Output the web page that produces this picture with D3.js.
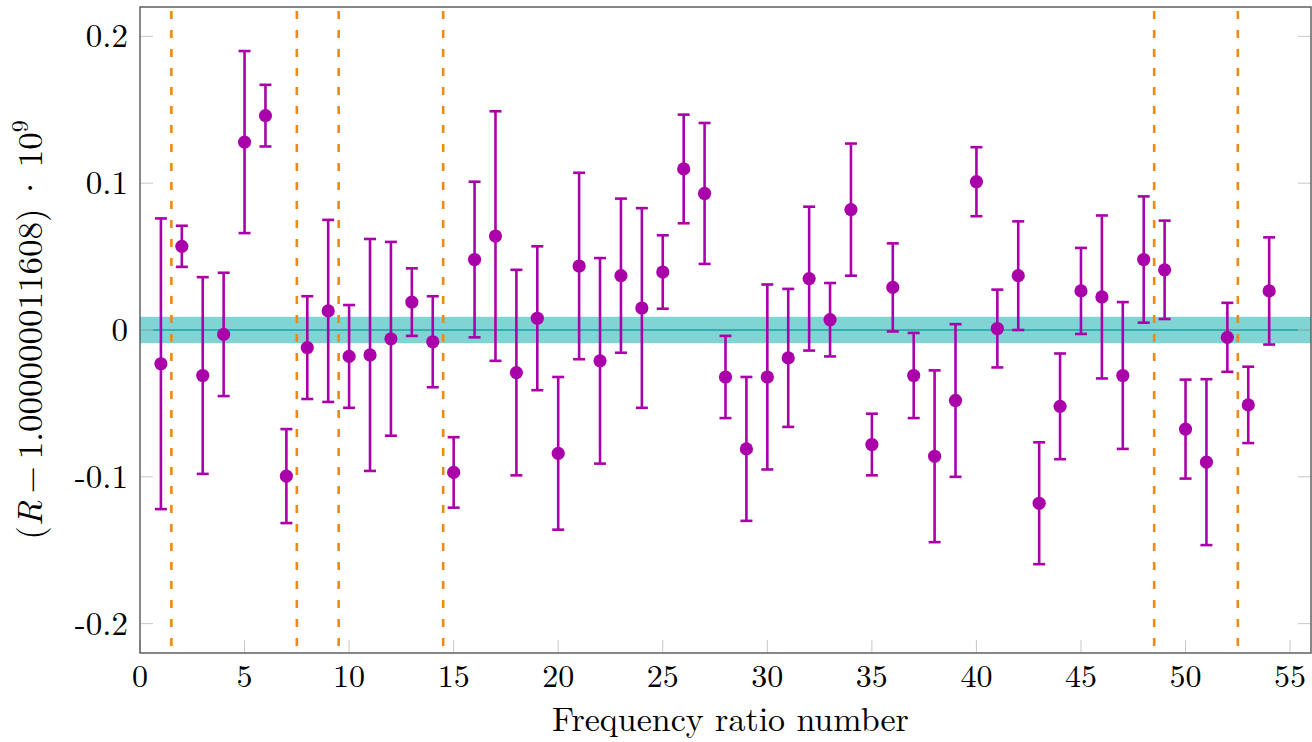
<!DOCTYPE html>
<html lang="en">
<head>
  <meta charset="UTF-8">
  <title>Frequency ratio residuals</title>
  <script src="https://d3js.org/d3.v7.min.js"></script>
  <style>
    body { margin: 0; background: #fff; }
    svg { font-family: "Latin Modern Roman", "CMU Serif", "Liberation Serif", serif; }
  </style>
</head>
<body>
<div id="chart"></div>
<script>
  // ratio number, value and symmetric error (all in 1e-9 units)
  const ratioNumber = d3.range(1, 55);
  const values = [
    -0.023, 0.057, -0.031, -0.003, 0.128, 0.146, -0.0995, -0.012, 0.013, -0.018,
    -0.017, -0.006, 0.019, -0.008, -0.097, 0.048, 0.064, -0.029, 0.008, -0.084,
    0.0436, -0.021, 0.037, 0.015, 0.0395, 0.1097, 0.093, -0.032, -0.081, -0.032,
    -0.019, 0.035, 0.007, 0.082, -0.078, 0.029, -0.031, -0.086, -0.048, 0.101,
    0.001, 0.037, -0.118, -0.052, 0.0266, 0.0225, -0.031, 0.048, 0.041, -0.0675,
    -0.090, -0.005, -0.051, 0.0266
  ];
  const errors = [
    0.099, 0.014, 0.067, 0.042, 0.062, 0.021, 0.032, 0.035, 0.062, 0.035,
    0.079, 0.066, 0.023, 0.031, 0.024, 0.053, 0.085, 0.070, 0.049, 0.052,
    0.0635, 0.070, 0.0525, 0.068, 0.025, 0.037, 0.048, 0.028, 0.049, 0.063,
    0.047, 0.049, 0.025, 0.045, 0.021, 0.030, 0.029, 0.0585, 0.052, 0.0235,
    0.0265, 0.037, 0.0415, 0.036, 0.0293, 0.0555, 0.050, 0.043, 0.0335, 0.0337,
    0.0565, 0.0235, 0.026, 0.0365
  ];
  const separators = [1.5, 7.5, 9.5, 14.5, 48.5, 52.5];
  const bandHalfWidth = 0.009;
  const xTicks = [0, 5, 10, 15, 20, 25, 30, 35, 40, 45, 50, 55];
  const yTicks = [-0.2, -0.1, 0, 0.1, 0.2];
  const yTickLabels = ["-0.2", "-0.1", "0", "0.1", "0.2"];

  const data = ratioNumber.map((n, i) => ({ n, v: values[i], e: errors[i] }));

  const W = 1312, H = 742;
  const margin = { top: 7, right: 1, bottom: 89, left: 140 };
  const width = W - margin.left - margin.right,
        height = H - margin.top - margin.bottom;

  const svg = d3.select("#chart").append("svg")
    .attr("width", W).attr("height", H);
  const g = svg.append("g")
    .attr("transform", `translate(${margin.left},${margin.top})`);

  const x = d3.scaleLinear().domain([0, 56]).range([0, width]);
  const y = d3.scaleLinear().domain([-0.22, 0.22]).range([height, 0]);

  const magenta = "#aa00aa", orange = "#ee8a10";

  // band around zero
  g.append("rect")
    .attr("x", 0).attr("width", width)
    .attr("y", y(bandHalfWidth))
    .attr("height", y(-bandHalfWidth) - y(bandHalfWidth))
    .attr("fill", "#80d4d4");
  g.append("line")
    .attr("x1", 0).attr("x2", width)
    .attr("y1", y(0)).attr("y2", y(0))
    .attr("stroke", "#1aa3a3").attr("stroke-width", 1.3);

  // ticks (inside)
  g.selectAll(".xt").data(xTicks).join("line")
    .attr("x1", d => x(d)).attr("x2", d => x(d))
    .attr("y1", height).attr("y2", height - 13)
    .attr("stroke", "#c8c8c8").attr("stroke-width", 1);
  g.selectAll(".yl").data(yTicks).join("line")
    .attr("x1", 0).attr("x2", 13)
    .attr("y1", d => y(d)).attr("y2", d => y(d))
    .attr("stroke", "#c8c8c8").attr("stroke-width", 1);
  g.selectAll(".yr").data(yTicks).join("line")
    .attr("x1", width).attr("x2", width - 13)
    .attr("y1", d => y(d)).attr("y2", d => y(d))
    .attr("stroke", "#c8c8c8").attr("stroke-width", 1);

  // separators
  g.selectAll(".sep").data(separators).join("line")
    .attr("x1", d => x(d)).attr("x2", d => x(d))
    .attr("y1", 4).attr("y2", height)
    .attr("stroke", orange).attr("stroke-width", 2.6)
    .attr("stroke-dasharray", "8,11");

  // error bars
  const eb = g.selectAll(".eb").data(data).join("g")
    .attr("stroke", magenta).attr("stroke-width", 2.6);
  eb.append("line")
    .attr("x1", d => x(d.n)).attr("x2", d => x(d.n))
    .attr("y1", d => y(d.v + d.e)).attr("y2", d => y(d.v - d.e));
  eb.append("line")
    .attr("x1", d => x(d.n) - 6).attr("x2", d => x(d.n) + 6)
    .attr("y1", d => y(d.v + d.e)).attr("y2", d => y(d.v + d.e));
  eb.append("line")
    .attr("x1", d => x(d.n) - 6).attr("x2", d => x(d.n) + 6)
    .attr("y1", d => y(d.v - d.e)).attr("y2", d => y(d.v - d.e));
  g.selectAll(".pt").data(data).join("circle")
    .attr("cx", d => x(d.n)).attr("cy", d => y(d.v))
    .attr("r", 6.6).attr("fill", magenta);

  // frame
  g.append("rect")
    .attr("x", 0).attr("y", 0).attr("width", width).attr("height", height)
    .attr("fill", "none").attr("stroke", "#555").attr("stroke-width", 1.4);

  // tick labels
  g.selectAll(".xl").data(xTicks).join("text")
    .attr("x", d => x(d)).attr("y", height + 34)
    .attr("text-anchor", "middle").attr("font-size", 32)
    .text(d => d);
  g.selectAll(".ylab").data(yTicks).join("text")
    .attr("x", -12).attr("y", d => y(d) + 11)
    .attr("text-anchor", "end").attr("font-size", 33)
    .text((d, i) => yTickLabels[i]);

  // axis titles
  g.append("text")
    .attr("x", width / 2 + 5).attr("y", height + 78)
    .attr("text-anchor", "middle").attr("font-size", 34)
    .text("Frequency ratio number");

  const yt = g.append("text")
    .attr("transform", `translate(${-margin.left + 42},${height / 2}) rotate(-90)`)
    .attr("text-anchor", "middle").attr("font-size", 35);
  yt.append("tspan").text("(");
  yt.append("tspan").attr("font-style", "italic").text("R");
  yt.append("tspan").text("\u2009\u2212\u20091.000000011608)\u2009\u00b7\u200910");
  yt.append("tspan").attr("font-size", 24).attr("dy", -14).text("9");
</script>
</body>
</html>
